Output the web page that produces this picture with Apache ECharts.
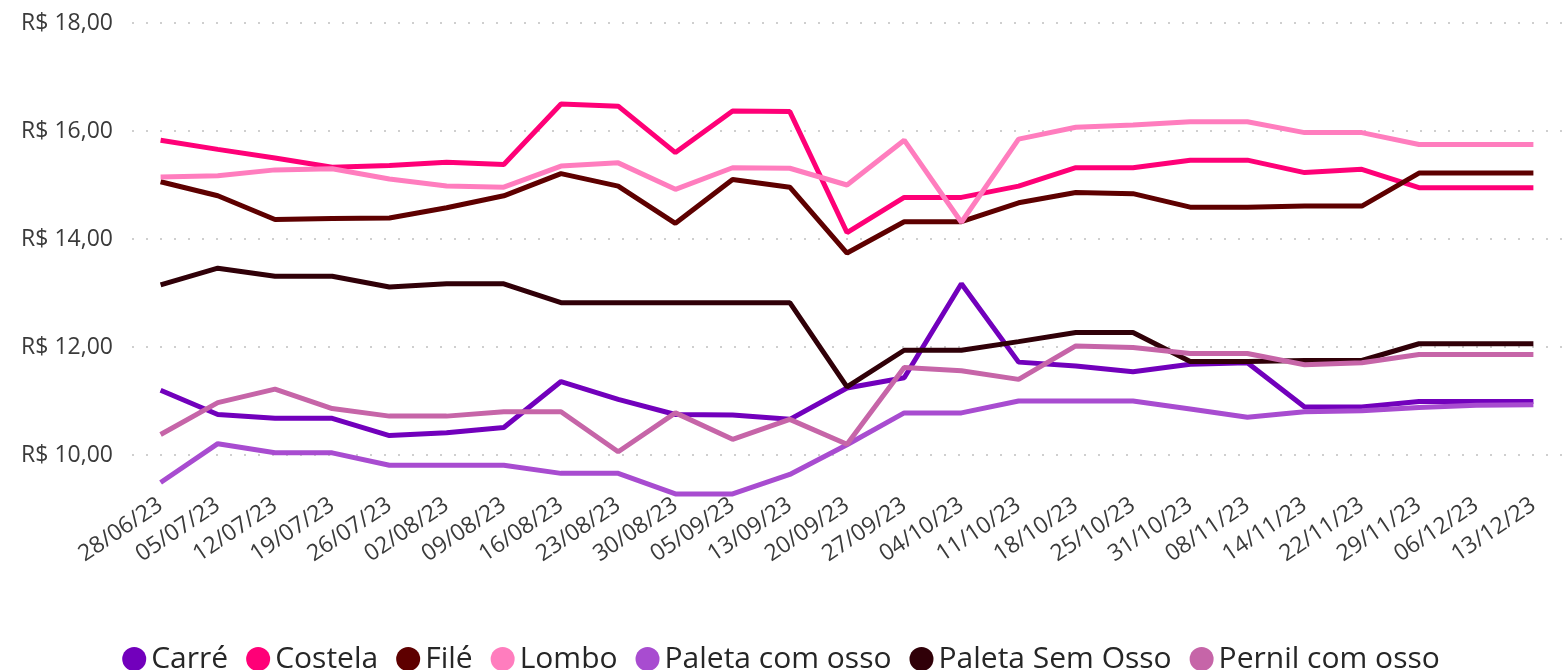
<!DOCTYPE html>
<html>
<head>
<meta charset="utf-8">
<script src="https://cdn.jsdelivr.net/npm/echarts@6/dist/echarts.min.js"></script>
<style>
  html, body { margin: 0; padding: 0; background: #fff; }
  #chart { width: 1562px; height: 670px; }
</style>
</head>
<body>
<div id="chart"></div>
<script>
// semanas
const datas = ['28/06/23', '05/07/23', '12/07/23', '19/07/23', '26/07/23', '02/08/23', '09/08/23',
  '16/08/23', '23/08/23', '30/08/23', '05/09/23', '13/09/23', '20/09/23', '27/09/23', '04/10/23',
  '11/10/23', '18/10/23', '25/10/23', '31/10/23', '08/11/23', '14/11/23', '22/11/23', '29/11/23',
  '06/12/23', '13/12/23']

// precos por corte (R$)
const carre = [11.20, 10.75, 10.68, 10.68, 10.36, 10.41, 10.51, 11.36, 11.03, 10.75, 10.74, 10.66, 11.24,
  11.43, 13.17, 11.72, 11.65, 11.54, 11.68, 11.71, 10.89, 10.89, 10.99, 10.99, 10.99]
const costela = [15.83, 15.66, 15.50, 15.33, 15.36, 15.42, 15.38, 16.50, 16.46, 15.60, 16.37, 16.36, 14.12,
  14.77, 14.77, 14.98, 15.32, 15.32, 15.46, 15.46, 15.23, 15.29, 14.95, 14.95, 14.95]
const file = [15.06, 14.80, 14.36, 14.38, 14.39, 14.58, 14.80, 15.21, 14.98, 14.29, 15.10, 14.96, 13.74,
  14.32, 14.32, 14.67, 14.86, 14.84, 14.59, 14.59, 14.61, 14.61, 15.22, 15.22, 15.22]
const lombo = [15.15, 15.17, 15.28, 15.30, 15.11, 14.98, 14.96, 15.35, 15.41, 14.92, 15.32, 15.31, 15.00,
  15.83, 14.31, 15.85, 16.07, 16.11, 16.17, 16.17, 15.97, 15.97, 15.75, 15.75, 15.75]
const paletaComOsso = [9.49, 10.21, 10.04, 10.04, 9.81, 9.81, 9.81, 9.66, 9.66, 9.28, 9.28, 9.64, 10.19,
  10.78, 10.78, 11.00, 11.00, 11.00, 10.85, 10.70, 10.80, 10.82, 10.88, 10.92, 10.93]
const paletaSemOsso = [13.15, 13.46, 13.31, 13.31, 13.11, 13.17, 13.17, 12.82, 12.82, 12.82, 12.82, 12.82, 11.26,
  11.94, 11.94, 12.10, 12.27, 12.27, 11.73, 11.73, 11.75, 11.75, 12.06, 12.06, 12.06]
const pernilComOsso = [10.38, 10.97, 11.22, 10.86, 10.72, 10.72, 10.80, 10.80, 10.06, 10.78, 10.29, 10.66, 10.20,
  11.62, 11.56, 11.40, 12.02, 11.99, 11.88, 11.88, 11.67, 11.71, 11.86, 11.86, 11.86]

const nomes = ['Carré', 'Costela', 'Filé', 'Lombo', 'Paleta com osso', 'Paleta Sem Osso', 'Pernil com osso']
const valores = [carre, costela, file, lombo, paletaComOsso, paletaSemOsso, pernilComOsso]
const cores = ['#7200BC', '#FF0077', '#5E0000', '#FF7DBE', '#A84CD0', '#300008', '#C665A8']

const fonte = '"Open Sans", "Noto Sans", sans-serif'

const myChart = echarts.init(document.getElementById('chart'))

const option = {
  animation: false,
  color: cores,
  textStyle: { fontFamily: fonte },
  grid: {
    left: 132,
    top: 23,
    width: 1452,
    height: 540
  },
  legend: {
    top: 639,
    left: 'center',
    icon: 'circle',
    itemWidth: 24,
    itemHeight: 24,
    itemGap: 18,
    textStyle: { fontSize: 30, color: '#262626', fontFamily: fonte },
    data: nomes
  },
  xAxis: {
    type: 'category',
    data: datas,
    boundaryGap: true,
    offset: -69,
    axisLine: { show: false },
    axisTick: { show: false },
    axisLabel: {
      rotate: 34,
      margin: 9,
      interval: 0,
      fontSize: 23,
      color: '#3a3a3a',
      fontFamily: fonte
    }
  },
  yAxis: {
    type: 'value',
    min: 8,
    max: 18,
    interval: 2,
    axisLine: { show: false },
    axisTick: { show: false },
    axisLabel: {
      margin: 19,
      fontSize: 23,
      color: '#3a3a3a',
      fontFamily: fonte,
      formatter: function (v) {
        if (v <= 8) return ''
        return 'R$ ' + v.toFixed(2).replace('.', ',')
      }
    },
    splitLine: {
      show: true,
      showMinLine: false,
      lineStyle: { color: '#cfcfcf', width: 2, type: [2, 12] }
    }
  },
  series: nomes.map(function (nome, i) {
    return {
      name: nome,
      type: 'line',
      data: valores[i],
      showSymbol: false,
      symbol: 'none',
      lineStyle: { width: 5, color: cores[i] },
      itemStyle: { color: cores[i] }
    }
  })
}

myChart.setOption(option)
</script>
</body>
</html>
